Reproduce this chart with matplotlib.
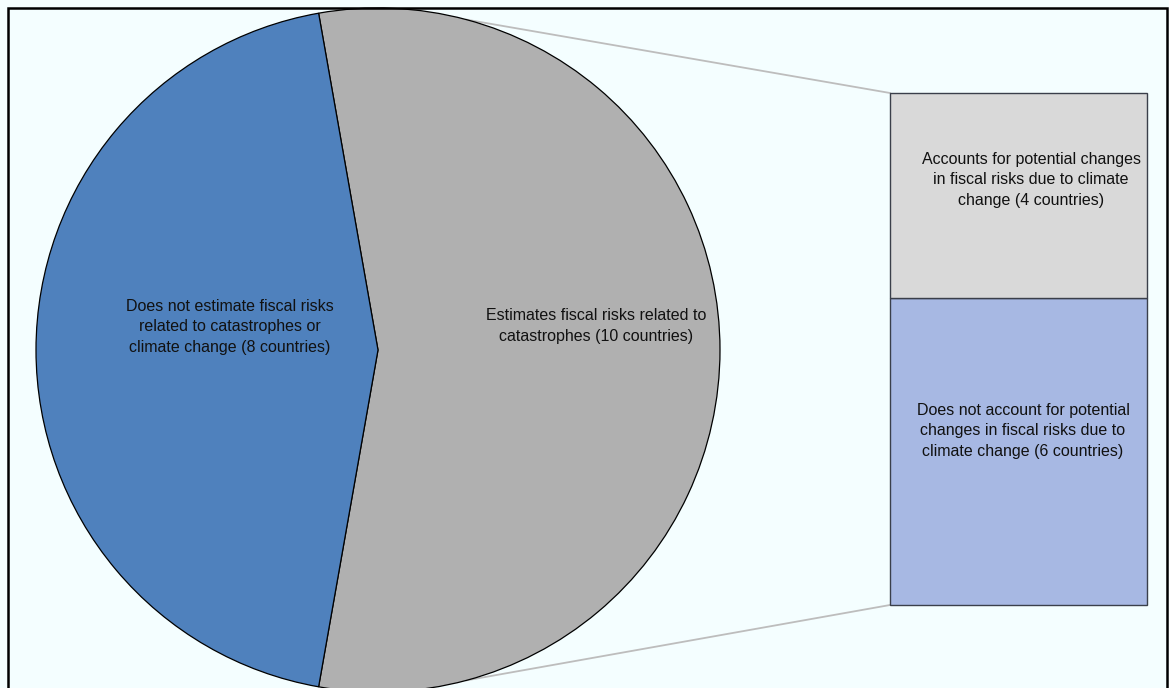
import numpy as np
import matplotlib.pyplot as plt
from matplotlib.patches import Rectangle

plt.rcParams['font.family'] = ['Liberation Sans', 'DejaVu Sans']

# pie: share of countries
pie_labels = ['Estimates fiscal risks related to\ncatastrophes (10 countries)',
              'Does not estimate fiscal risks\nrelated to catastrophes or\nclimate change (8 countries)']
pie_values = [10, 8]
pie_colors = ['#b0b0b0', '#4f81bd']

# bar: split of the 10 countries that estimate catastrophe risks
bar_labels = ['Does not account for potential\nchanges in fiscal risks due to\nclimate change (6 countries)',
              'Accounts for potential changes\nin fiscal risks due to climate\nchange (4 countries)']
bar_values = [6, 4]
bar_colors = ['#a7b8e3', '#d9d9d9']

W, H = 1169, 688
fig = plt.figure(figsize=(W / 100, H / 100), dpi=100)
bg = '#f4feff'
fig.patch.set_facecolor(bg)
ax = fig.add_axes([0, 0, 1, 1])
ax.set_facecolor(bg)

cx, cy, r = 378, H - 350, 342
wedges, _ = ax.pie(pie_values, startangle=-100, colors=pie_colors, center=(cx, cy),
                   radius=r, wedgeprops=dict(edgecolor='black', linewidth=0.9))
for w in wedges:
    w.set_zorder(3)

txt = dict(ha='center', va='center', fontsize=11.5, linespacing=1.45,
           color='#111111', zorder=5)
ax.text(596, H - 326, pie_labels[0], **txt)
ax.text(230, H - 327, pie_labels[1], **txt)

# stacked bar
bx0, bx1 = 890, 1147
btop, bbot = H - 93, H - 605
scale = (btop - bbot) / sum(bar_values)
bottom = bbot
for v, c in zip(bar_values, bar_colors):
    ax.bar((bx0 + bx1) / 2, v * scale, width=bx1 - bx0, bottom=bottom, color=c,
           edgecolor='#3a3f4a', linewidth=1.0, zorder=3)
    bottom += v * scale

ax.text(1023, H - 431, bar_labels[0], **txt)
ax.text(1031, H - 180, bar_labels[1], **txt)

# connector lines from the pie edge to the bar corners
a = np.deg2rad(75)
ax.plot([cx + r * np.cos(a), bx0], [cy + r * np.sin(a), btop],
        color='#bdbdbd', linewidth=1.3, zorder=2)
ax.plot([cx + r * np.cos(a), bx0], [cy - r * np.sin(a), bbot],
        color='#bdbdbd', linewidth=1.3, zorder=2)

# outer frame
ax.add_patch(Rectangle((8, -20), 1159, H - 8 + 20, fill=False, edgecolor='black',
                       linewidth=1.8, zorder=6))

ax.set_xlim(0, W)
ax.set_ylim(0, H)
ax.set_aspect('auto')
ax.axis('off')

fig.savefig('out.png', dpi=100, facecolor=bg)
